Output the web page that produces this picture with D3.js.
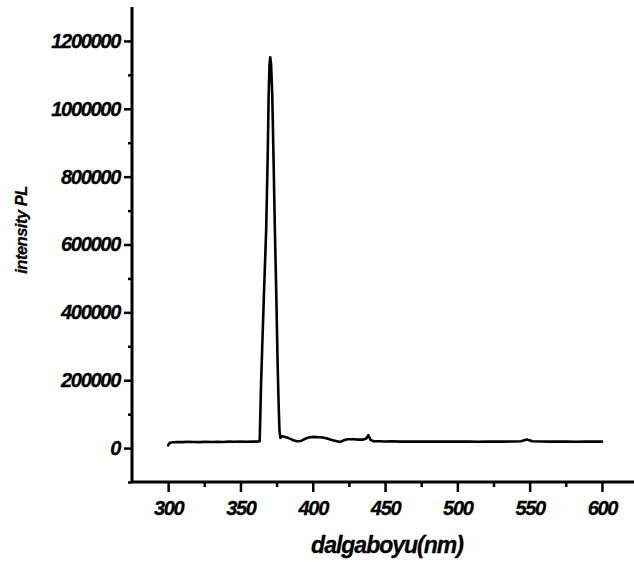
<!DOCTYPE html>
<html>
<head>
<meta charset="utf-8">
<script src="https://cdn.jsdelivr.net/npm/d3@7"></script>
<style>
    body { margin: 0; background: #fff; }
    svg { display: block; }
    text { font-family: Arial, "Liberation Sans", sans-serif; font-weight: bold; font-style: italic; fill: #000; }
    .axis path, .axis line { stroke: #000; }
</style>
</head>
<body>
<svg id="svg" width="634" height="565"></svg>
<script>
/*jshint esversion: 6 */

// wavelength (nm) and PL intensity
const wavelengths = [
    300, 301, 303, 306, 310, 314, 318, 322, 326, 330, 334, 338, 342, 346, 350,
    354, 358, 361, 363.3, 363.7, 364.2, 365.0, 366.3, 367.8, 368.8, 369.5, 370.1, 370.6,
    371.2, 372, 372.9, 373.8, 374.8, 375.7, 376.4, 377, 377.6, 378.5, 380, 383,
    386, 389, 392, 395, 398, 401, 404, 407, 410, 413, 416, 419, 421, 424, 428,
    432, 435, 437, 438.5, 440, 442, 446, 450, 455, 460, 466, 472, 478, 484, 490,
    496, 502, 508, 514, 520, 526, 532, 538, 544, 548, 552, 558, 564, 570, 576,
    582, 588, 594, 600
];
const intensity = [
    8000, 15000, 17000, 18000, 17500, 18500, 18000, 17500, 18500, 18000, 18500, 18000, 19000, 18500, 19000,
    18500, 19500, 19000, 20000, 90000, 180000, 290000, 460000, 645000, 850000, 1040000, 1130000, 1152000,
    1130000, 1040000, 850000, 645000, 450000, 250000, 130000, 50000, 30000, 35000, 34000, 30000,
    24000, 20000, 21000, 28000, 32000, 33000, 32000, 31000, 28000, 24000, 21000, 18000, 22000, 26000, 26000,
    25000, 25000, 28000, 38000, 24000, 20000, 20000, 19500, 20000, 19000, 19500, 19000, 19500, 19000, 19500,
    19000, 19500, 19000, 18500, 19000, 19500, 19000, 19500, 20000, 25000, 20000, 19500, 19000, 19500, 19000,
    18500, 19000, 19500, 19000
];

const xMajor = [300, 350, 400, 450, 500, 550, 600];
const xMinor = [325, 375, 425, 475, 525, 575];
const yMajor = [0, 200000, 400000, 600000, 800000, 1000000, 1200000];
const yMinor = [-100000, 100000, 300000, 500000, 700000, 900000, 1100000];

const xTitle = "dalgaboyu(nm)";
const yTitle = "intensity PL";

const width = document.querySelector("svg").clientWidth;
const height = document.querySelector("svg").clientHeight;
const margin = {top: 7, left: 132, bottom: 83, right: 0};

drawChart();

function drawChart() {
    const svg = d3.select("#svg");

    const xScale = d3.scaleLinear()
        .domain([275, 625])
        .range([margin.left, margin.left + 350 * 1.446]);
    const yScale = d3.scaleLinear()
        .domain([-100000, 1300000])
        .range([height - margin.bottom, margin.top]);

    // minor ticks first, then the major axis on top
    svg.append("g")
        .attr("class", "x axis minor")
        .attr("transform", "translate(0," + yScale(-100000) + ")")
        .call(d3.axisBottom(xScale).tickValues(xMinor).tickSize(5).tickFormat(""))
        .call(g => g.select(".domain").remove())
        .selectAll("line").attr("stroke-width", 2.5);

    svg.append("g")
        .attr("class", "y axis minor")
        .attr("transform", "translate(" + xScale(275) + ",0)")
        .call(d3.axisLeft(yScale).tickValues(yMinor).tickSize(4).tickFormat(""))
        .call(g => g.select(".domain").remove())
        .selectAll("line").attr("stroke-width", 2.5);

    const xAxis = svg.append("g")
        .attr("class", "x axis")
        .attr("transform", "translate(0," + yScale(-100000) + ")")
        .call(d3.axisBottom(xScale).tickValues(xMajor).tickSize(10).tickSizeOuter(0).tickPadding(9).tickFormat(d3.format("d")));

    const yAxis = svg.append("g")
        .attr("class", "y axis")
        .attr("transform", "translate(" + xScale(275) + ",0)")
        .call(d3.axisLeft(yScale).tickValues(yMajor).tickSize(8).tickSizeOuter(0).tickPadding(4).tickFormat(d3.format("d")));

    [xAxis, yAxis].forEach(a => {
        a.select(".domain").attr("stroke-width", 3);
        a.selectAll(".tick line").attr("stroke-width", 2.5);
        a.selectAll(".tick text")
            .attr("font-size", 20)
            .attr("letter-spacing", -1.3)
            .attr("stroke", "#000")
            .attr("stroke-width", 0.3)
            .attr("font-family", null);
    });
    // extend the x axis line to the right edge, y axis line to the top
    xAxis.select(".domain").attr("d", "M" + xScale(275) + ",0H" + width);
    yAxis.select(".domain").attr("d", "M0," + yScale(-100000) + "V" + margin.top);

    const line = d3.line()
        .x((d, i) => xScale(wavelengths[i]))
        .y(d => yScale(d));

    svg.append("path")
        .datum(intensity)
        .attr("fill", "none")
        .attr("stroke", "#000")
        .attr("stroke-width", 2.6)
        .attr("stroke-linejoin", "round")
        .attr("stroke-linecap", "round")
        .attr("d", line);

    svg.append("text")
        .attr("x", 387)
        .attr("y", 553)
        .attr("text-anchor", "middle")
        .attr("font-size", 23)
        .attr("letter-spacing", -1)
        .attr("stroke", "#000")
        .attr("stroke-width", 0.3)
        .text(xTitle);

    svg.append("text")
        .attr("transform", "translate(27,230) rotate(-90)")
        .attr("text-anchor", "middle")
        .attr("font-size", 16.5)
        .attr("letter-spacing", -0.5)
        .attr("stroke", "#000")
        .attr("stroke-width", 0.25)
        .text(yTitle);
}
</script>
</body>
</html>
